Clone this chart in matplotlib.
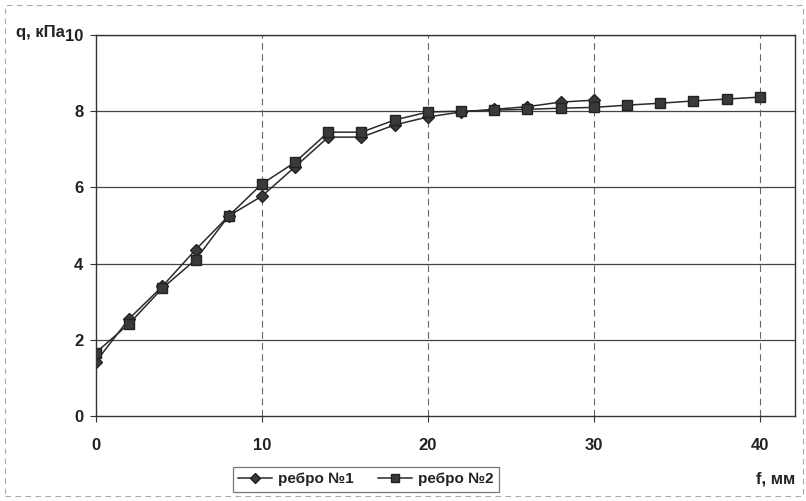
import matplotlib.pyplot as plt
from matplotlib.lines import Line2D
from matplotlib.patches import Rectangle

# f, mm
f1 = [0, 2, 4, 6, 8, 10, 12, 14, 16, 18, 20, 22, 24, 26, 28, 30]
q1 = [1.42, 2.55, 3.40, 4.36, 5.25, 5.77, 6.54, 7.32, 7.32, 7.64, 7.85, 7.98, 8.05, 8.12, 8.24, 8.29]

f2 = [0, 2, 4, 6, 8, 10, 12, 14, 16, 18, 20, 22, 24, 26, 28, 30, 32, 34, 36, 38, 40]
q2 = [1.66, 2.42, 3.35, 4.10, 5.25, 6.09, 6.66, 7.45, 7.45, 7.77, 7.98, 8.00, 8.03, 8.05, 8.08,
      8.10, 8.16, 8.21, 8.27, 8.32, 8.37]

x_ticks = [0, 10, 20, 30, 40]
y_ticks = [0, 2, 4, 6, 8, 10]
names = ['ребро №1', 'ребро №2']

plt.rcParams['font.family'] = ['Liberation Sans', 'DejaVu Sans']
plt.rcParams['font.weight'] = 'bold'

fig = plt.figure(figsize=(8.06, 5.01), dpi=100)
ax = fig.add_axes([0.119, 0.170, 0.867, 0.760])

ax.plot(f1, q1, color='#2a2a2a', lw=1.1, marker='D', ms=6.5, mfc='#3a3a3a', mec='#222222', label=names[0])
ax.plot(f2, q2, color='#2a2a2a', lw=1.1, marker='s', ms=7.5, mfc='#3a3a3a', mec='#222222', label=names[1])

ax.set_xlim(0, 42.1)
ax.set_ylim(0, 10)
ax.set_xticks(x_ticks)
ax.set_yticks(y_ticks)
ax.tick_params(labelsize=12, length=4, width=0.8, color='#333333')
ax.tick_params(axis='x', pad=12)
ax.tick_params(axis='y', pad=5)
for lab in ax.get_xticklabels() + ax.get_yticklabels():
    lab.set_fontweight('bold')
    lab.set_color('#222222')

for y in y_ticks[1:]:
    ax.axhline(y, color='#444444', lw=0.9, zorder=0)
for x in x_ticks[1:]:
    ax.axvline(x, color='#666666', lw=0.8, ls=(0, (6, 4)), zorder=0)

for s in ax.spines.values():
    s.set_color('#333333')
    s.set_linewidth(1.0)

fig.text(0.020, 0.936, 'q, кПа', fontsize=12, fontweight='bold', color='#222222', va='center')
fig.text(0.987, 0.043, 'f, мм', fontsize=12, fontweight='bold', color='#222222', ha='right', va='center')

handles = [Line2D([], [], color='#2a2a2a', lw=1.1, marker='D', ms=5, mfc='#3a3a3a', mec='#222222'),
           Line2D([], [], color='#2a2a2a', lw=1.1, marker='s', ms=5.5, mfc='#3a3a3a', mec='#222222')]
leg = fig.legend(handles, names, loc='center', bbox_to_anchor=(0.454, 0.043), ncol=2,
                 fontsize=11, frameon=True, fancybox=False, handlelength=2.2,
                 columnspacing=1.6, borderpad=0.35, handletextpad=0.4)
leg.get_frame().set_edgecolor('#555555')
leg.get_frame().set_linewidth(0.9)
for t in leg.get_texts():
    t.set_fontweight('bold')
    t.set_color('#222222')

fig.patches.append(Rectangle((0.006, 0.01), 0.99, 0.98, transform=fig.transFigure, fill=False,
                             ec='#aaaaaa', lw=0.8, ls=(0, (5, 4))))

fig.savefig('out.png', dpi=100)
